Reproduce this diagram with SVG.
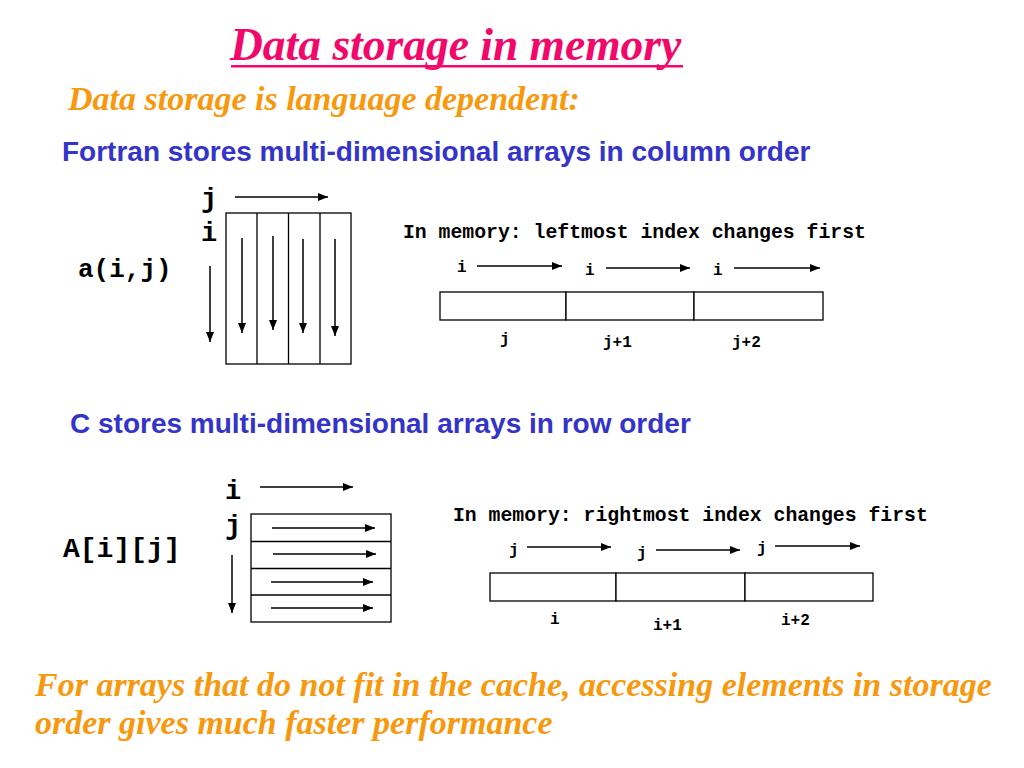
<svg xmlns="http://www.w3.org/2000/svg" width="1024" height="768" viewBox="0 0 1024 768">
<defs>
<marker id="ah" viewBox="0 0 10 8" refX="10" refY="4" markerWidth="10" markerHeight="8" markerUnits="userSpaceOnUse" orient="auto">
<path d="M0,0 L10,4 L0,8 z" fill="#000"/>
</marker>
<style>
.title{font-family:"Liberation Serif",serif;font-weight:bold;font-style:italic;fill:#F2076B;font-size:45.5px}
.sub{font-family:"Liberation Serif",serif;font-weight:bold;font-style:italic;fill:#F7990F;font-size:34px}
.bottom{font-family:"Liberation Serif",serif;font-weight:bold;font-style:italic;fill:#F7990F;font-size:34px}
.head{font-family:"Liberation Sans",Arial,sans-serif;font-weight:bold;fill:#3434C8;font-size:28px}
.mono{font-family:"Liberation Mono","Courier New",monospace;font-weight:bold;fill:#000}
.big{font-size:27px}
.mem{font-size:19.8px}
.sm{font-size:16px}
.box{fill:#fff;stroke:#000;stroke-width:1.3}
.arr{stroke:#000;stroke-width:1.5;fill:none;marker-end:url(#ah)}
</style>
</defs>
<rect width="1024" height="768" fill="#fff"/>
<g id="title">
<text class="title" x="230" y="60">Data storage in memory</text>
<rect x="231" y="65" width="452" height="2.5" fill="#F2076B"/>
</g>
<text class="sub" x="68" y="110">Data storage is language dependent:</text>
<text class="head" x="62" y="161">Fortran stores multi-dimensional arrays in column order</text>

<g id="fortran-matrix">
<rect class="box" x="226" y="213" width="125" height="151"/>
<line x1="257" y1="213" x2="257" y2="364" stroke="#000" stroke-width="1.3"/>
<line x1="288.5" y1="213" x2="288.5" y2="364" stroke="#000" stroke-width="1.3"/>
<line x1="320" y1="213" x2="320" y2="364" stroke="#000" stroke-width="1.3"/>
</g>
<g id="fortran-labels">
<text class="mono big" x="201" y="207">j</text>
<text class="mono big" x="201" y="241">i</text>
<text class="mono" font-size="26" x="78" y="277">a(i,j)</text>
</g>

<g id="fortran-memory">
<text class="mono mem" x="403" y="238">In memory: leftmost index changes first</text>
<rect class="box" x="440" y="292" width="126" height="28"/>
<rect class="box" x="566" y="292" width="128" height="28"/>
<rect class="box" x="694" y="292" width="129" height="28"/>
<text class="mono sm" x="457" y="272">i</text>
<text class="mono sm" x="585" y="275">i</text>
<text class="mono sm" x="713" y="275">i</text>
<text class="mono sm" x="500" y="344">j</text>
<text class="mono sm" x="603" y="347">j+1</text>
<text class="mono sm" x="732" y="347">j+2</text>
</g>

<text class="head" x="70" y="433">C stores multi-dimensional arrays in row order</text>

<g id="c-matrix">
<rect class="box" x="251" y="514" width="140" height="108"/>
<line x1="251" y1="541.5" x2="391" y2="541.5" stroke="#000" stroke-width="1.3"/>
<line x1="251" y1="568.5" x2="391" y2="568.5" stroke="#000" stroke-width="1.3"/>
<line x1="251" y1="595" x2="391" y2="595" stroke="#000" stroke-width="1.3"/>
</g>
<g id="c-labels">
<text class="mono big" x="225" y="499">i</text>
<text class="mono big" x="225" y="534">j</text>
<text class="mono" font-size="28" x="63" y="557">A[i][j]</text>
</g>

<g id="c-memory">
<text class="mono mem" x="453" y="521">In memory: rightmost index changes first</text>
<rect class="box" x="490" y="573" width="126" height="28"/>
<rect class="box" x="616" y="573" width="129" height="28"/>
<rect class="box" x="745" y="573" width="128" height="28"/>
<text class="mono sm" x="509" y="555">j</text>
<text class="mono sm" x="637" y="558">j</text>
<text class="mono sm" x="757" y="553">j</text>
<text class="mono sm" x="550" y="624">i</text>
<text class="mono sm" x="653" y="630">i+1</text>
<text class="mono sm" x="781" y="625">i+2</text>
</g>

<g id="connectors">
<line class="arr" x1="235" y1="197" x2="328" y2="197"/>
<line class="arr" x1="210" y1="266" x2="210" y2="342"/>
<line class="arr" x1="242" y1="238" x2="242" y2="333"/>
<line class="arr" x1="273" y1="236" x2="273" y2="330"/>
<line class="arr" x1="303" y1="239" x2="303" y2="333"/>
<line class="arr" x1="335" y1="239" x2="335" y2="336"/>
<line class="arr" x1="477" y1="266" x2="562" y2="266"/>
<line class="arr" x1="606" y1="268" x2="690" y2="268"/>
<line class="arr" x1="734" y1="268" x2="820" y2="268"/>
<line class="arr" x1="260" y1="487" x2="353" y2="487"/>
<line class="arr" x1="232" y1="555" x2="232" y2="613"/>
<line class="arr" x1="272" y1="528" x2="375" y2="528"/>
<line class="arr" x1="273" y1="554" x2="376" y2="554"/>
<line class="arr" x1="271" y1="582" x2="373" y2="582"/>
<line class="arr" x1="271" y1="608" x2="373" y2="608"/>
<line class="arr" x1="527" y1="547" x2="611" y2="547"/>
<line class="arr" x1="656" y1="550" x2="740" y2="550"/>
<line class="arr" x1="775" y1="546" x2="860" y2="546"/>
</g>

<g id="footer">
<text class="bottom" x="35" y="696">For arrays that do not fit in the cache, accessing elements in storage</text>
<text class="bottom" x="35" y="734">order gives much faster performance</text>
</g>
</svg>
